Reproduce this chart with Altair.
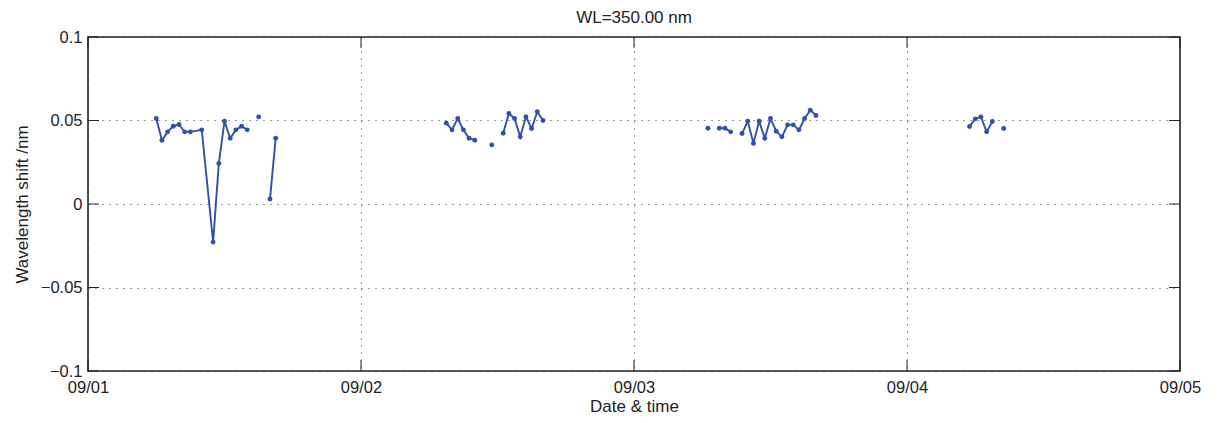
import altair as alt
import pandas as pd

# ---- data ----
day1_times = ["06:00", "06:30", "07:00", "07:30", "08:00", "08:30", "09:00", "10:00",
              "11:00", "11:30", "12:00", "12:30", "13:00", "13:30", "14:00",
              "15:00", "16:00", "16:30"]
day1_vals = [0.0512, 0.0382, 0.0432, 0.0466, 0.0476, 0.0432, 0.0432, 0.0444,
             -0.0228, 0.0243, 0.0496, 0.0393, 0.0444, 0.0466, 0.0444,
             0.0522, 0.0030, 0.0394]
day1_seg = [1] * 15 + [2] + [3, 3]

day2_times = ["07:30", "08:00", "08:30", "09:00", "09:30", "10:00", "11:30",
              "12:30", "13:00", "13:30", "14:00", "14:30", "15:00", "15:30", "16:00"]
day2_vals = [0.0484, 0.0444, 0.0512, 0.0444, 0.0394, 0.0382, 0.0354,
             0.0424, 0.0542, 0.0512, 0.0402, 0.0522, 0.0452, 0.0552, 0.0500]
day2_seg = [4] * 6 + [5] + [6] * 8

day3_times = ["06:30", "07:30", "08:00", "08:30", "09:30", "10:00", "10:30", "11:00",
              "11:30", "12:00", "12:30", "13:00", "13:30", "14:00", "14:30", "15:00",
              "15:30", "16:00"]
day3_vals = [0.0454, 0.0454, 0.0454, 0.0432, 0.0422, 0.0496, 0.0363, 0.0496,
             0.0393, 0.0512, 0.0436, 0.0402, 0.0474, 0.0474, 0.0444, 0.0512,
             0.0562, 0.0530]
day3_seg = [7] + [8] * 3 + [9] * 14

day4_times = ["05:30", "06:00", "06:30", "07:00", "07:30", "08:30"]
day4_vals = [0.0464, 0.0510, 0.0522, 0.0432, 0.0494, 0.0452]
day4_seg = [10] * 5 + [11]

x_tick_dates = ["2012-09-01", "2012-09-02", "2012-09-03", "2012-09-04", "2012-09-05"]
y_tick_vals = [-0.1, -0.05, 0, 0.05, 0.1]

BLUE = "#3151a6"
W, H = 1092, 334

rows = []
for date, ts, vs, ss in [("2012-09-01", day1_times, day1_vals, day1_seg),
                         ("2012-09-02", day2_times, day2_vals, day2_seg),
                         ("2012-09-03", day3_times, day3_vals, day3_seg),
                         ("2012-09-04", day4_times, day4_vals, day4_seg)]:
    for t, v, s in zip(ts, vs, ss):
        rows.append({"time": f"{date}T{t}:00", "shift": v, "seg": s})
df = pd.DataFrame(rows)

def dt(s):
    y, m, d = s.split("-")
    return alt.DateTime(year=int(y), month=int(m), date=int(d))

x_scale = alt.Scale(domain=[dt(x_tick_dates[0]), dt(x_tick_dates[-1])], nice=False)
y_scale = alt.Scale(domain=[-0.1, 0.1], nice=False, zero=False)

x_axis = alt.Axis(values=[dt(s) for s in x_tick_dates], format="%m/%d", title="Date & time",
                  labelPadding=8, titlePadding=3, ticks=False, domain=False,
                  grid=True, gridDash=[1, 6], gridColor="#333333", gridWidth=1,
                  labelAngle=0, labelFlush=False, labelOverlap=False)
y_axis = alt.Axis(values=y_tick_vals, format=".2~f", title="Wavelength shift /nm",
                  labelPadding=6, titlePadding=9, ticks=False, domain=False,
                  grid=True, gridDash=[1, 6], gridColor="#333333", gridWidth=1,
                  labelFlush=False, labelOverlap=False)

base = alt.Chart(df)
lines = base.mark_line(color=BLUE, strokeWidth=1.9).encode(
    x=alt.X("time:T", scale=x_scale, axis=x_axis),
    y=alt.Y("shift:Q", scale=y_scale, axis=y_axis),
    detail="seg:N",
)
points = base.mark_circle(color=BLUE, size=24, opacity=1).encode(
    x="time:T", y="shift:Q"
)

ytick_df = pd.DataFrame({"shift": y_tick_vals})
xtick_df = pd.DataFrame({"time": [s + "T00:00:00" for s in x_tick_dates]})
TICK = 11
tick_color = "#222222"
left_ticks = alt.Chart(ytick_df).mark_rule(color=tick_color, strokeWidth=1).encode(
    y="shift:Q", x=alt.value(0), x2=alt.value(TICK))
right_ticks = alt.Chart(ytick_df).mark_rule(color=tick_color, strokeWidth=1).encode(
    y="shift:Q", x=alt.value(W - TICK), x2=alt.value(W))
bottom_ticks = alt.Chart(xtick_df).mark_rule(color=tick_color, strokeWidth=1).encode(
    x="time:T", y=alt.value(H), y2=alt.value(H - TICK))
top_ticks = alt.Chart(xtick_df).mark_rule(color=tick_color, strokeWidth=1).encode(
    x="time:T", y=alt.value(0), y2=alt.value(TICK))

chart = alt.layer(lines, points, left_ticks, right_ticks, bottom_ticks, top_ticks).properties(
    width=W, height=H,
    title=alt.TitleParams("WL=350.00 nm", fontSize=17, fontWeight="normal",
                          font="Liberation Sans", color="#222222", offset=2),
    autosize=alt.AutoSizeParams(type="none"),
    padding={"left": 88, "top": 37, "right": 39, "bottom": 52},
).configure_view(
    stroke="#222222", strokeWidth=1.6
).configure_axis(
    labelFont="Liberation Sans", titleFont="Liberation Sans",
    labelFontSize=16.5, titleFontSize=17, titleFontWeight="normal",
    labelColor="#222222", titleColor="#222222",
)

chart.save("out.html", embed_options={"renderer": "svg", "actions": False})
